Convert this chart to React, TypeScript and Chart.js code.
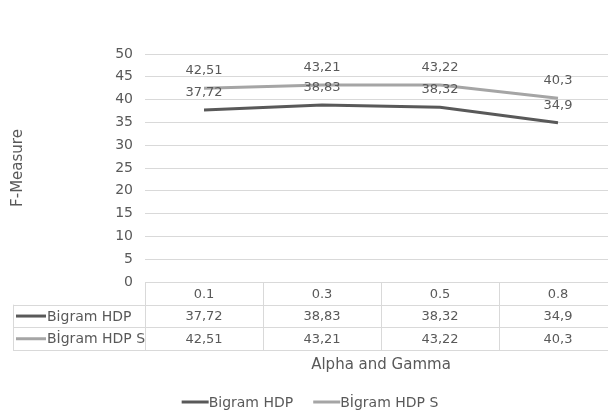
import React, { useEffect, useRef } from "react";
import { Chart, registerables } from "chart.js";

Chart.register(...registerables);

const categories = ["0.1", "0.3", "0.5", "0.8"];
const seriesNames = ["Bigram HDP", "Bİgram HDP S"];
const bigramHdp = [37.72, 38.83, 38.32, 34.9];
const bigramHdpS = [42.51, 43.21, 43.22, 40.3];
const seriesLabels = [
  ["37,72", "38,83", "38,32", "34,9"],
  ["42,51", "43,21", "43,22", "40,3"],
];
const seriesColors = ["#595959", "#a5a5a5"];
const yTitle = "F-Measure";
const xTitle = "Alpha and Gamma";

const FONT = "'DejaVu Sans', sans-serif";
const TEXT = "#595959";
const GRID = "#d9d9d9";

const tablePlugin = {
  id: "tablePlugin",
  afterDatasetsDraw(chart: any) {
    const ctx = chart.ctx;
    const ca = chart.chartArea;
    const xs = chart.scales.x;
    // data labels
    ctx.save();
    ctx.font = `13px ${FONT}`;
    ctx.fillStyle = TEXT;
    ctx.textAlign = "center";
    ctx.textBaseline = "middle";
    chart.data.datasets.forEach((ds: any, di: number) => {
      const meta = chart.getDatasetMeta(di);
      meta.data.forEach((pt: any, i: number) => {
        ctx.fillText(seriesLabels[di][i], pt.x, pt.y - 17.5);
      });
    });
    ctx.restore();
  },
  afterDraw(chart: any) {
    const ctx = chart.ctx;
    const ca = chart.chartArea;
    const xs = chart.scales.x;
    const n = categories.length;
    const colW = (ca.right - ca.left) / n;
    const rowH = 22.7;
    const top = ca.bottom;
    const tableLeft = 13;
    ctx.save();
    ctx.strokeStyle = GRID;
    ctx.lineWidth = 1;
    const line = (x1: number, y1: number, x2: number, y2: number) => {
      ctx.beginPath();
      ctx.moveTo(x1, y1);
      ctx.lineTo(x2, y2);
      ctx.stroke();
    };
    // horizontal lines
    line(ca.left, Math.round(top) + 0.5, ca.right, Math.round(top) + 0.5);
    for (let r = 1; r <= 3; r++) {
      const y = Math.round(top + r * rowH) + 0.5;
      line(tableLeft, y, ca.right, y);
    }
    // vertical lines
    for (let c = 0; c <= n; c++) {
      const x = Math.round(ca.left + c * colW) + 0.5;
      line(x, top, x, top + 3 * rowH);
    }
    line(tableLeft + 0.5, top + rowH, tableLeft + 0.5, top + 3 * rowH);

    // header text
    ctx.fillStyle = TEXT;
    ctx.textBaseline = "middle";
    ctx.textAlign = "center";
    ctx.font = `13px ${FONT}`;
    categories.forEach((c, i) => {
      const x = xs.getPixelForValue(i);
      ctx.fillText(c, x, top + rowH / 2 + 1);
    });
    const data = [bigramHdp, bigramHdpS];
    data.forEach((vals, r) => {
      const cy = top + (r + 1) * rowH + rowH / 2 + 1;
      ctx.textAlign = "center";
      ctx.font = `13px ${FONT}`;
      vals.forEach((v, i) => {
        ctx.fillText(seriesLabels[r][i], xs.getPixelForValue(i), cy);
      });
      // key
      ctx.strokeStyle = seriesColors[r];
      ctx.lineWidth = 3;
      line(16, cy - 1, 46, cy - 1);
      ctx.textAlign = "left";
      ctx.font = `14px ${FONT}`;
      ctx.fillText(seriesNames[r], 47, cy);
    });

    // x title
    ctx.font = `15px ${FONT}`;
    ctx.textAlign = "center";
    ctx.fillText(xTitle, (ca.left + ca.right) / 2, 365);

    // legend
    ctx.font = `14px ${FONT}`;
    const keyW = 27;
    const gap = 20;
    const w0 = ctx.measureText(seriesNames[0]).width;
    const w1 = ctx.measureText(seriesNames[1]).width;
    const total = keyW + w0 + gap + keyW + w1;
    let x = 310 - total / 2;
    const ly = 402;
    ctx.textAlign = "left";
    [w0, w1].forEach((w, i) => {
      ctx.strokeStyle = seriesColors[i];
      ctx.lineWidth = 3;
      line(x, ly, x + keyW, ly);
      ctx.fillText(seriesNames[i], x + keyW, ly + 1);
      x += keyW + w + gap;
    });
    ctx.restore();
  },
};

export default function App() {
  const ref = useRef<HTMLCanvasElement>(null);
  useEffect(() => {
    if (!ref.current) return;
    const chart = new Chart(ref.current, {
      type: "line",
      data: {
        labels: categories,
        datasets: [
          {
            label: seriesNames[0],
            data: bigramHdp,
            borderColor: seriesColors[0],
            backgroundColor: seriesColors[0],
            borderWidth: 3,
            pointRadius: 0,
            tension: 0,
          },
          {
            label: seriesNames[1],
            data: bigramHdpS,
            borderColor: seriesColors[1],
            backgroundColor: seriesColors[1],
            borderWidth: 3,
            pointRadius: 0,
            tension: 0,
          },
        ],
      },
      options: {
        responsive: false,
        animation: false,
        layout: { padding: { top: 54, right: 3, bottom: 135, left: 0 } },
        plugins: {
          legend: { display: false },
          tooltip: { enabled: false },
        },
        scales: {
          x: {
            display: false,
            offset: true,
          },
          y: {
            min: 0,
            max: 50,
            ticks: {
              stepSize: 5,
              padding: 12,
              color: TEXT,
              font: { family: FONT, size: 14 },
            },
            grid: { color: GRID, drawTicks: false },
            border: { display: false },
            title: {
              display: true,
              text: yTitle,
              color: TEXT,
              font: { family: FONT, size: 15 },
              padding: { top: 9, bottom: 0 },
            },
            afterFit: (s: any) => {
              s.width = 145;
            },
          },
        },
      },
      plugins: [tablePlugin],
    });
    return () => chart.destroy();
  }, []);
  return (
    <div
      style={{
        position: "fixed",
        left: 0,
        top: 0,
        width: 608,
        height: 417,
        overflow: "hidden",
        background: "#fff",
      }}
    >
      <canvas ref={ref} width={620} height={417} style={{ display: "block" }} />
    </div>
  );
}
